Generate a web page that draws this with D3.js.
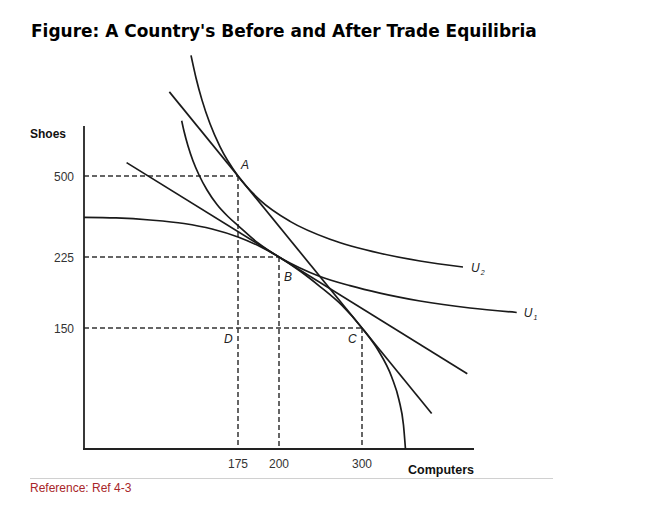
<!DOCTYPE html>
<html>
<head>
<meta charset="utf-8">
<script src="https://cdn.jsdelivr.net/npm/d3@7/dist/d3.min.js"></script>
<style>
  html, body { margin: 0; padding: 0; background: #fff; }
  svg { display: block; }
</style>
</head>
<body>
<svg id="chart" width="650" height="515"></svg>
<script>
// ---- Data (schematic diagram values) ----
const titleText = "Figure: A Country's Before and After Trade Equilibria";
const xTickValues = [175, 200, 300];
const yTickValues = [500, 225, 150];
const xAxisLabel = "Computers";
const yAxisLabel = "Shoes";

// equilibrium points: [computers, shoes]
const pointA = [175, 500];
const pointB = [200, 225];
const pointC = [300, 150];
const pointD = [175, 150];

// production possibility frontier
const ppf = [[0,359.8],[36.4,357.6],[75,350.6],[113.6,338.7],[145.5,320.1],[175,292.9],[188.4,260.6],[200,225],[225.3,210.2],[249.4,193.8],[275.9,173.8],[300,150],[319.3,122.7],[335.8,89.3],[344.6,60.7],[350,29.8],[352.4,0]];
// indifference curves
const u2 = [[121.6,910.1],[127.3,833.4],[134.1,758],[143.2,677.6],[154.5,599.8],[175,500],[188.4,418.2],[213.3,345.9],[261.4,285.1],[321.7,237.6],[369.9,220.8],[421.7,214.4]];
const u1 = [[111,687.7],[113.6,652.8],[118.2,601.9],[123.9,550.9],[130.7,503.4],[139.8,452.5],[151.1,403.2],[163.6,362.5],[175,331.9],[187.2,272.5],[200,225],[225.3,213.4],[249.4,204.4],[285.5,194.7],[321.7,186.8],[369.9,178.5],[430.2,171.1],[486.5,166.4]];
// price lines
const tradeLine = [[97,786],[384,44]];
const autarkyLine = [[48.4,545.5],[426.9,93.3]];

const referenceText = "Reference: Ref 4-3";

// ---- Scales (schematic, piecewise) ----
const x = d3.scaleLinear().domain([0, 175, 200, 300, 435]).range([84, 238, 279, 362, 474]);
const y = d3.scaleLinear().domain([0, 150, 225, 500, 670]).range([449, 328, 257, 176, 126]);

const svg = d3.select("#chart");
const ink = "#1a1a1a";

// Title
const title = svg.append("text")
  .attr("x", 31).attr("y", 37)
  .attr("font-family", "'DejaVu Sans', Verdana, sans-serif")
  .attr("font-weight", "bold")
  .attr("font-size", 18)
  .attr("fill", "#000")
  .text(titleText);
(function fit(){
  let fs = 18;
  const target = 506;
  for (let i = 0; i < 6; i++) {
    const w = title.node().getComputedTextLength();
    if (!w) break;
    fs = fs * target / w;
    title.attr("font-size", fs);
  }
})();

// Dashed guides
const dash = "5,3";
const guides = svg.append("g").attr("stroke", "#333").attr("stroke-width", 1.5).attr("stroke-dasharray", dash).attr("fill", "none");
[pointA, pointB, pointC].forEach(p => {
  guides.append("line").attr("x1", x(0)).attr("x2", x(p[0])).attr("y1", y(p[1])).attr("y2", y(p[1]));
  guides.append("line").attr("x1", x(p[0])).attr("x2", x(p[0])).attr("y1", y(p[1])).attr("y2", y(0));
});

// Axes (plain lines, schematic)
const axes = svg.append("g").attr("stroke", "#222").attr("stroke-width", 1.8);
axes.append("line").attr("x1", x(0)).attr("x2", x(0)).attr("y1", y(0) + 1).attr("y2", y(670));
axes.append("line").attr("x1", x(0) - 1).attr("x2", x(435)).attr("y1", y(0)).attr("y2", y(0));

// Tick labels
const tickFont = "'Liberation Sans', Arial, sans-serif";
svg.append("g").selectAll("text").data(xTickValues).join("text")
  .attr("x", d => x(d)).attr("y", y(0) + 19)
  .attr("text-anchor", "middle")
  .attr("font-family", tickFont).attr("font-size", 12).attr("fill", "#333")
  .text(d => d);
svg.append("g").selectAll("text").data(yTickValues).join("text")
  .attr("x", x(0) - 10).attr("y", d => y(d) + 4.5)
  .attr("text-anchor", "end")
  .attr("font-family", tickFont).attr("font-size", 12).attr("fill", "#333")
  .text(d => d);

// Axis titles
svg.append("text").attr("x", 30).attr("y", 138)
  .attr("font-family", tickFont).attr("font-weight", "bold").attr("font-size", 12).attr("fill", "#111")
  .text(yAxisLabel);
svg.append("text").attr("x", 408).attr("y", 474)
  .attr("font-family", tickFont).attr("font-weight", "bold").attr("font-size", 12.5).attr("fill", "#111")
  .text(xAxisLabel);

// Curves
const smooth = d3.line().x(d => x(d[0])).y(d => y(d[1])).curve(d3.curveMonotoneX);
const straight = d3.line().x(d => x(d[0])).y(d => y(d[1]));
const curves = svg.append("g").attr("fill", "none").attr("stroke", ink).attr("stroke-width", 1.7);
curves.append("path").attr("d", smooth(ppf));
curves.append("path").attr("d", smooth(u2));
curves.append("path").attr("d", smooth(u1));
curves.append("path").attr("d", straight(tradeLine));
curves.append("path").attr("d", straight(autarkyLine));

// Point labels
const labFont = "'Liberation Sans', Arial, sans-serif";
const labels = [
  {t: "A", p: pointA, dx: 3, dy: -7},
  {t: "B", p: pointB, dx: 5, dy: 24},
  {t: "C", p: pointC, dx: -14, dy: 15},
  {t: "D", p: pointD, dx: -14, dy: 15}
];
svg.append("g").selectAll("text").data(labels).join("text")
  .attr("x", d => x(d.p[0]) + d.dx).attr("y", d => y(d.p[1]) + d.dy)
  .attr("font-family", labFont).attr("font-style", "italic").attr("font-size", 12).attr("fill", "#222")
  .text(d => d.t);

// Utility curve labels
function uLabel(pt, sub, dx, dy) {
  const t = svg.append("text")
    .attr("x", x(pt[0]) + dx).attr("y", y(pt[1]) + dy)
    .attr("font-family", labFont).attr("font-style", "italic").attr("font-size", 12).attr("fill", "#222");
  t.append("tspan").text("U");
  t.append("tspan").attr("font-size", 7).attr("dy", 3).attr("dx", 1).text(sub);
}
uLabel(u2[u2.length - 1], "2", 8, 5);
uLabel(u1[u1.length - 1], "1", 7, 5);

// Footer
svg.append("line").attr("x1", 30).attr("x2", 553).attr("y1", 478.5).attr("y2", 478.5)
  .attr("stroke", "#d0d0d0").attr("stroke-width", 1);
svg.append("text").attr("x", 30).attr("y", 492)
  .attr("font-family", tickFont).attr("font-size", 12).attr("fill", "#a8262a")
  .text(referenceText);
</script>
</body>
</html>
